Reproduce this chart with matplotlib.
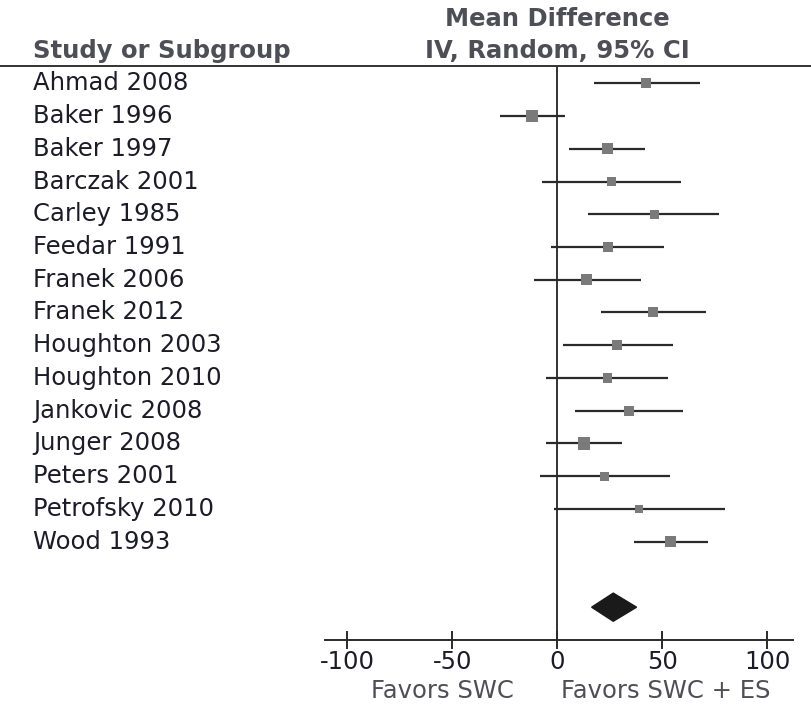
import numpy as np
import matplotlib.pyplot as plt
from matplotlib.lines import Line2D
from matplotlib.patches import Polygon
import matplotlib.transforms as mtransforms

plt.rcParams['font.family'] = ['DejaVu Sans']

# ---- data ----
studies = ["Ahmad 2008", "Baker 1996", "Baker 1997", "Barczak 2001", "Carley 1985",
           "Feedar 1991", "Franek 2006", "Franek 2012", "Houghton 2003", "Houghton 2010",
           "Jankovic 2008", "Junger 2008", "Peters 2001", "Petrofsky 2010", "Wood 1993"]
mean_diff = [42.0, -12.0, 23.9, 25.8, 46.1, 23.9, 13.9, 45.6, 28.5, 23.9,
             33.9, 12.6, 22.5, 39.0, 53.9]
ci_low = [17.2, -27.2, 5.5, -7.2, 14.5, -2.8, -10.9, 20.9, 2.8, -5.5,
          8.2, -5.5, -8.2, -1.8, 36.3]
ci_high = [67.9, 3.4, 41.5, 58.8, 77.0, 50.7, 39.8, 70.7, 55.1, 52.6,
           59.8, 30.7, 53.4, 79.9, 71.5]
weights = [7.2, 9.0, 8.0, 7.0, 6.8, 7.2, 7.8, 7.2, 7.0, 6.6, 7.2, 9.0, 6.6, 5.6, 7.6]
pooled = 26.6
pooled_ci = (16.3, 37.7)
xticks = [-100, -50, 0, 50, 100]

text_col = '#1c1c28'
head_col = '#4e4e56'
fs = 17.5

fig = plt.figure(figsize=(8.12, 7.04), dpi=100)
ax = fig.add_axes([0.4003, 0.0910, 0.5764, 0.8372])
ax.set_xlim(-110.6, 112.2)
ax.set_ylim(18, 0)

rows = np.arange(1, len(studies) + 1)

# confidence intervals and point estimates
ax.hlines(rows, ci_low, ci_high, color='#2a2a2a', lw=1.6, zorder=2)
ax.scatter(mean_diff, rows, marker='s', s=np.array(weights) ** 2, color='#7a7a7a',
           edgecolor='none', zorder=3)

# pooled diamond
ypool = len(studies) + 2
diamond = Polygon([[pooled_ci[0], ypool], [pooled, ypool - 0.43],
                   [pooled_ci[1], ypool], [pooled, ypool + 0.43]],
                  closed=True, facecolor='#1a1a1a', edgecolor='#1a1a1a', zorder=3)
ax.add_patch(diamond)

# line of no effect
ax.vlines(0, 0.46, 18, color='#333333', lw=1.4, zorder=1)

# axis styling
for s in ['top', 'right', 'left']:
    ax.spines[s].set_visible(False)
ax.spines['bottom'].set_color('#2a2a2a')
ax.spines['bottom'].set_linewidth(1.4)
ax.set_yticks([])
ax.set_xticks(xticks)
ax.set_xticklabels([str(t) for t in xticks])
ax.tick_params(axis='x', direction='inout', length=13, width=1.4, color='#2a2a2a',
               labelsize=fs, labelcolor=text_col, pad=1)
ax.patch.set_visible(False)

# study labels
trans = mtransforms.blended_transform_factory(fig.transFigure, ax.transData)
for r, name in zip(rows, studies):
    ax.text(33 / 812, r, name, transform=trans, ha='left', va='center',
            fontsize=fs, color=text_col, clip_on=False)

# headers
ax.text(33 / 812, 0, "Study or Subgroup", transform=trans, ha='left', va='center',
        fontsize=fs, fontweight='bold', color=head_col, clip_on=False)
ax.text(0, -0.97, "Mean Difference", ha='center', va='center', fontsize=fs,
        fontweight='bold', color=head_col, clip_on=False)
ax.text(0, 0, "IV, Random, 95% CI", ha='center', va='center', fontsize=fs,
        fontweight='bold', color=head_col, clip_on=False)

# header rule across the whole width
ax.add_line(Line2D([0, 1], [0.46, 0.46], transform=trans, color='#333333', lw=1.4,
                   clip_on=False))

# direction labels
ax.text(-54.8, 19.55, "Favors SWC", ha='center', va='center', fontsize=17.5,
        color=head_col, clip_on=False)
ax.text(51.7, 19.55, "Favors SWC + ES", ha='center', va='center', fontsize=17.5,
        color=head_col, clip_on=False)

fig.savefig('out.png', dpi=100)
